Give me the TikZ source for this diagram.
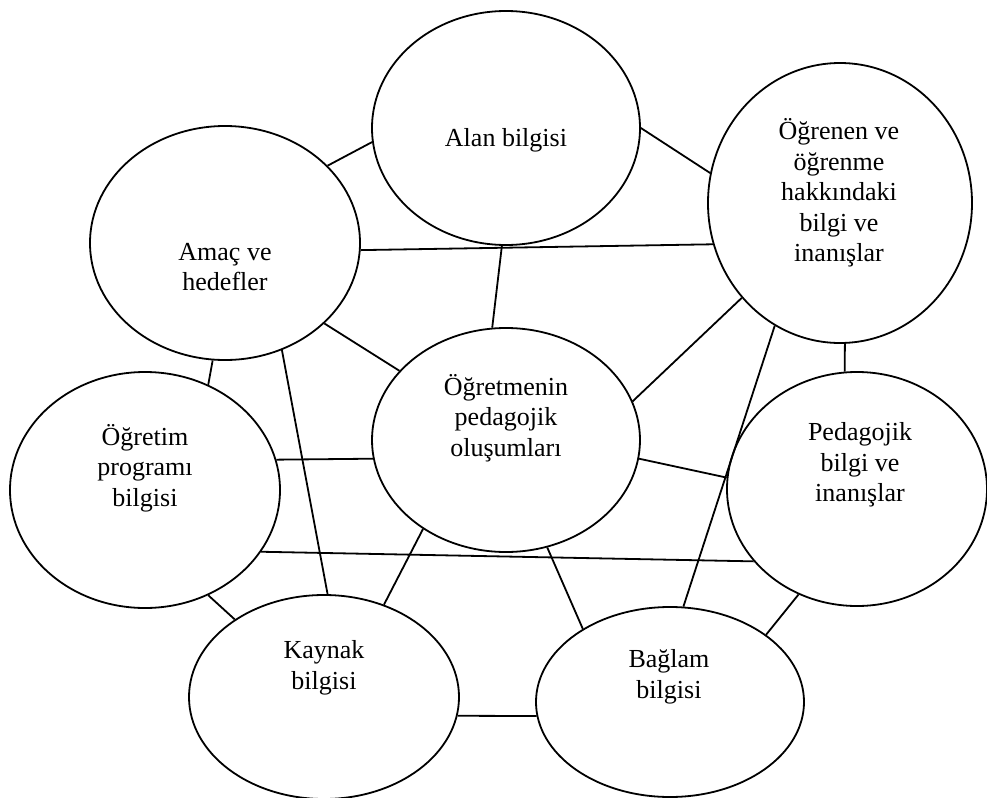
\documentclass[tikz,border=0pt]{standalone}
\usepackage{fontspec}
\setmainfont{Liberation Serif}
\usetikzlibrary{shapes.geometric}

\begin{document}
\begin{tikzpicture}[x=0.5pt, y=-0.5pt,
    bubble/.style={ellipse, draw, line width=0.9pt, inner sep=0pt},
    lbl/.style={align=center, font=\fontsize{13}{15.3}\selectfont},
    link/.style={line width=0.9pt}]
      \useasboundingbox (0, 0) rectangle (987, 798);

      \node[bubble, minimum width=134pt, minimum height=117pt] (alan) at (506, 128){};
        \node[lbl] (alan-t) at (506, 140){Alan bilgisi};
      \node[bubble, minimum width=135pt, minimum height=117pt] (amac) at (225, 243){};
        \node[lbl] (amac-t) at (225, 267){Amaç ve\\hedefler};
      \node[bubble, minimum width=132pt, minimum height=140pt] (ogrenen) at (840, 203){};
        \node[lbl] (ogrenen-t) at (839, 193){Öğrenen ve\\öğrenme\\hakkındaki\\bilgi ve\\inanışlar};
      \node[bubble, minimum width=134pt, minimum height=112pt] (ogretmen) at (506, 440){};
        \node[lbl] (ogretmen-t) at (506, 418){Öğretmenin\\pedagojik\\oluşumları};
      \node[bubble, minimum width=135pt, minimum height=118pt] (program) at (145, 490){};
        \node[lbl] (program-t) at (145, 468){Öğretim\\programı\\bilgisi};
      \node[bubble, minimum width=130pt, minimum height=117pt] (pedagoji) at (857, 489){};
        \node[lbl] (pedagoji-t) at (860, 465){Pedagojik\\bilgi ve\\inanışlar};
      \node[bubble, minimum width=135pt, minimum height=102pt] (kaynak) at (324, 697){};
        \node[lbl] (kaynak-t) at (324, 668){Kaynak\\bilgisi};
      \node[bubble, minimum width=134pt, minimum height=95pt] (baglam) at (670, 702){};
        \node[lbl] (baglam-t) at (669, 677){Bağlam\\bilgisi};

      \draw[link] (amac.37.5) to (alan.186.4);
      \draw[link] (alan.0.8) to (ogrenen.167.2);
      \draw[link] (amac.-3.8) to (ogrenen.198.2);
      \draw[link] (alan.268) to (ogretmen.97);
      \draw[link] (amac.-39.6) to (ogretmen.147.2);
      \draw[link] (ogrenen.224.1) to (ogretmen.17.9);

      \draw[link] (amac.264.6) to (program.59.4);
      \draw[link] (amac.-62.5) to (kaynak.88.3);
      \draw[link] (ogrenen.272.4) to (pedagoji.96.3);
      \draw[link] (ogrenen.242.9) to (baglam.82.2);

      \draw[link] (program.13.1) to (ogretmen.188.1);
      \draw[link] (ogretmen.-8) to (pedagoji.175.2);
      \draw[link] (program.-28.3) to (pedagoji.215.2);

      \draw[link] (ogretmen.227.3) to (kaynak.57.7);
      \draw[link] (ogretmen.-69.6) to (baglam.140.9);
      \draw[link] (program.-59.4) to (kaynak.139.4);
      \draw[link] (pedagoji.241.3) to (baglam.35.8);
      \draw[link] (kaynak.-8.4) to (baglam.186.3);

    \end{tikzpicture}
\end{document}
